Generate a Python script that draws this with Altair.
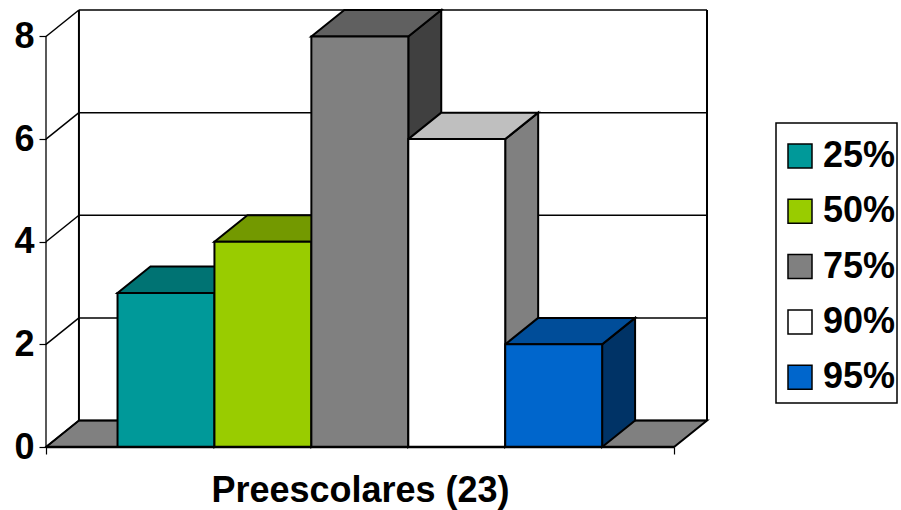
import altair as alt
import pandas as pd

# Series of the single category group
series = ["25%", "50%", "75%", "90%", "95%"]
values = [3, 4, 8, 6, 2]
front_colors = ["#009999", "#99CC00", "#808080", "#FFFFFF", "#0066CC"]
top_colors = ["#007373", "#739900", "#606060", "#BFBFBF", "#004D99"]
side_colors = ["#004C4C", "#4C6600", "#404040", "#808080", "#003366"]
y_ticks = [0, 2, 4, 6, 8]
group_label = "Preescolares (23)"

# Oblique box geometry, in axis units (one x unit is one bar width)
DEPTH_X = 0.34
DEPTH_Y = 0.516
GAP = 0.738
AXIS_END = 6.48
X_MAX = AXIS_END + DEPTH_X
Y_MAX = 8 + DEPTH_Y

x_scale = alt.Scale(domain=[0, X_MAX], nice=False, zero=False)
y_scale = alt.Scale(domain=[0, Y_MAX], nice=False, zero=False)

y_axis = alt.Axis(
    values=y_ticks,
    domain=False,
    grid=False,
    tickSize=7,
    tickWidth=1.2,
    tickColor="#000000",
    labelFontSize=36,
    labelFont="Liberation Sans",
    labelFontWeight="bold",
    labelColor="#000000",
    labelPadding=5,
    format="d",
    title=None,
)
x_axis = alt.Axis(
    values=[0, AXIS_END],
    domain=False,
    grid=False,
    labels=False,
    tickSize=7,
    tickWidth=1.2,
    tickColor="#000000",
    title=group_label,
    titleFontSize=36,
    titleFont="Liberation Sans",
    titleFontWeight="bold",
    titleColor="#000000",
    titleX=314,
    titleY=54,
    titleBaseline="alphabetic",
    titleAlign="center",
)


def X():
    return alt.X("x:Q", scale=x_scale, axis=x_axis, stack=False)


def Y():
    return alt.Y("y:Q", scale=y_scale, axis=y_axis, stack=False)


OUTLINE = dict(stroke="#000000", strokeWidth=2, strokeJoin="miter")

# Front faces
front = pd.DataFrame(
    {
        "series": series,
        "x": [GAP + i for i in range(len(series))],
        "x2": [GAP + i + 1 for i in range(len(series))],
        "y": values,
        "y2": [0] * len(series),
    }
)

# Side and top faces are parallelograms running back into the box
side_rows, top_rows = [], []
for i, (v, ct, cs) in enumerate(zip(values, top_colors, side_colors)):
    right = GAP + i + 1
    left = GAP + i
    side_rows += [
        {"bar": i, "x": right, "y": 0, "y2": v, "fill": cs},
        {"bar": i, "x": right + DEPTH_X, "y": DEPTH_Y, "y2": v + DEPTH_Y, "fill": cs},
    ]
    top_rows += [
        {"bar": i, "y": v, "x": left, "x2": right, "fill": ct},
        {"bar": i, "y": v + DEPTH_Y, "x": left + DEPTH_X, "x2": right + DEPTH_X, "fill": ct},
    ]

floor = pd.DataFrame(
    [
        {"y": 0, "x": 0, "x2": AXIS_END},
        {"y": DEPTH_Y, "x": DEPTH_X, "x2": X_MAX},
    ]
)

# Wall lines: one diagonal on the left wall and one line on the back wall per gridline
diag_rows, grid_rows = [], []
for v in y_ticks:
    diag_rows += [{"tick": v, "x": 0, "y": v}, {"tick": v, "x": DEPTH_X, "y": v + DEPTH_Y}]
    grid_rows.append({"x": DEPTH_X, "x2": X_MAX, "y": v + DEPTH_Y})

legend_box = alt.Chart(pd.DataFrame({"k": [0]})).mark_rect(
    fill="#FFFFFF", stroke="#000000", strokeWidth=1.5
).encode(
    x=alt.value(730), x2=alt.value(851), y=alt.value(113), y2=alt.value(393)
)

floor_layer = alt.Chart(floor).mark_area(orient="horizontal", fill="#808080", **OUTLINE).encode(
    x=X(), x2="x2:Q", y=Y()
)
grid_layer = alt.Chart(pd.DataFrame(grid_rows)).mark_rule(color="#000000", strokeWidth=1.5).encode(
    x=X(), x2="x2:Q", y=Y()
)
diag_layer = alt.Chart(pd.DataFrame(diag_rows)).mark_line(color="#000000", strokeWidth=1.5).encode(
    x=X(), y=Y(), detail="tick:N"
)
walls = pd.DataFrame(
    [
        {"x": 0, "y": 0, "y2": 8, "w": "front"},
        {"x": DEPTH_X, "y": DEPTH_Y, "y2": Y_MAX, "w": "back"},
        {"x": X_MAX, "y": DEPTH_Y, "y2": Y_MAX, "w": "back"},
    ]
)
wall_layer = alt.Chart(walls).mark_rule(color="#000000").encode(
    x=X(),
    y=Y(),
    y2="y2:Q",
    strokeWidth=alt.StrokeWidth(
        "w:N", scale=alt.Scale(domain=["front", "back"], range=[1.3, 2]), legend=None
    ),
)

side_layer = alt.Chart(pd.DataFrame(side_rows)).mark_area(orient="vertical", **OUTLINE).encode(
    x=X(),
    y=Y(),
    y2="y2:Q",
    fill=alt.Fill("fill:N", scale=None),
    detail="bar:N",
)
top_layer = alt.Chart(pd.DataFrame(top_rows)).mark_area(orient="horizontal", **OUTLINE).encode(
    x=X(),
    x2="x2:Q",
    y=Y(),
    fill=alt.Fill("fill:N", scale=None),
    detail="bar:N",
)
front_layer = alt.Chart(front).mark_rect(**OUTLINE).encode(
    x=X(),
    x2="x2:Q",
    y=Y(),
    y2="y2:Q",
    color=alt.Color(
        "series:N",
        scale=alt.Scale(domain=series, range=front_colors),
        sort=series,
        legend=alt.Legend(
            orient="none",
            legendX=736,
            legendY=128,
            title=None,
            symbolType="square",
            symbolSize=576,
            symbolStrokeColor="#000000",
            symbolStrokeWidth=1.5,
            symbolOpacity=1,
            labelFontSize=36,
            labelFont="Liberation Sans",
            labelFontWeight="bold",
            labelColor="#000000",
            labelOffset=5,
            rowPadding=19.3,
            padding=0,
            labelLimit=200,
        ),
    ),
)
baseline = alt.Chart(pd.DataFrame([{"x": 0, "x2": AXIS_END, "y": 0}])).mark_rule(
    color="#000000", strokeWidth=2.5
).encode(x=X(), x2="x2:Q", y=Y())

chart = (
    alt.layer(
        legend_box,
        floor_layer,
        grid_layer,
        diag_layer,
        wall_layer,
        side_layer,
        top_layer,
        front_layer,
        baseline,
    )
    .properties(
        width=661,
        height=437,
        background="#FFFFFF",
        autosize=alt.AutoSizeParams(type="none"),
        padding={"left": 46, "top": 10, "right": 194, "bottom": 63},
    )
    .configure_view(stroke=None)
)

chart.save("out.html", embed_options={"renderer": "svg", "actions": False})
